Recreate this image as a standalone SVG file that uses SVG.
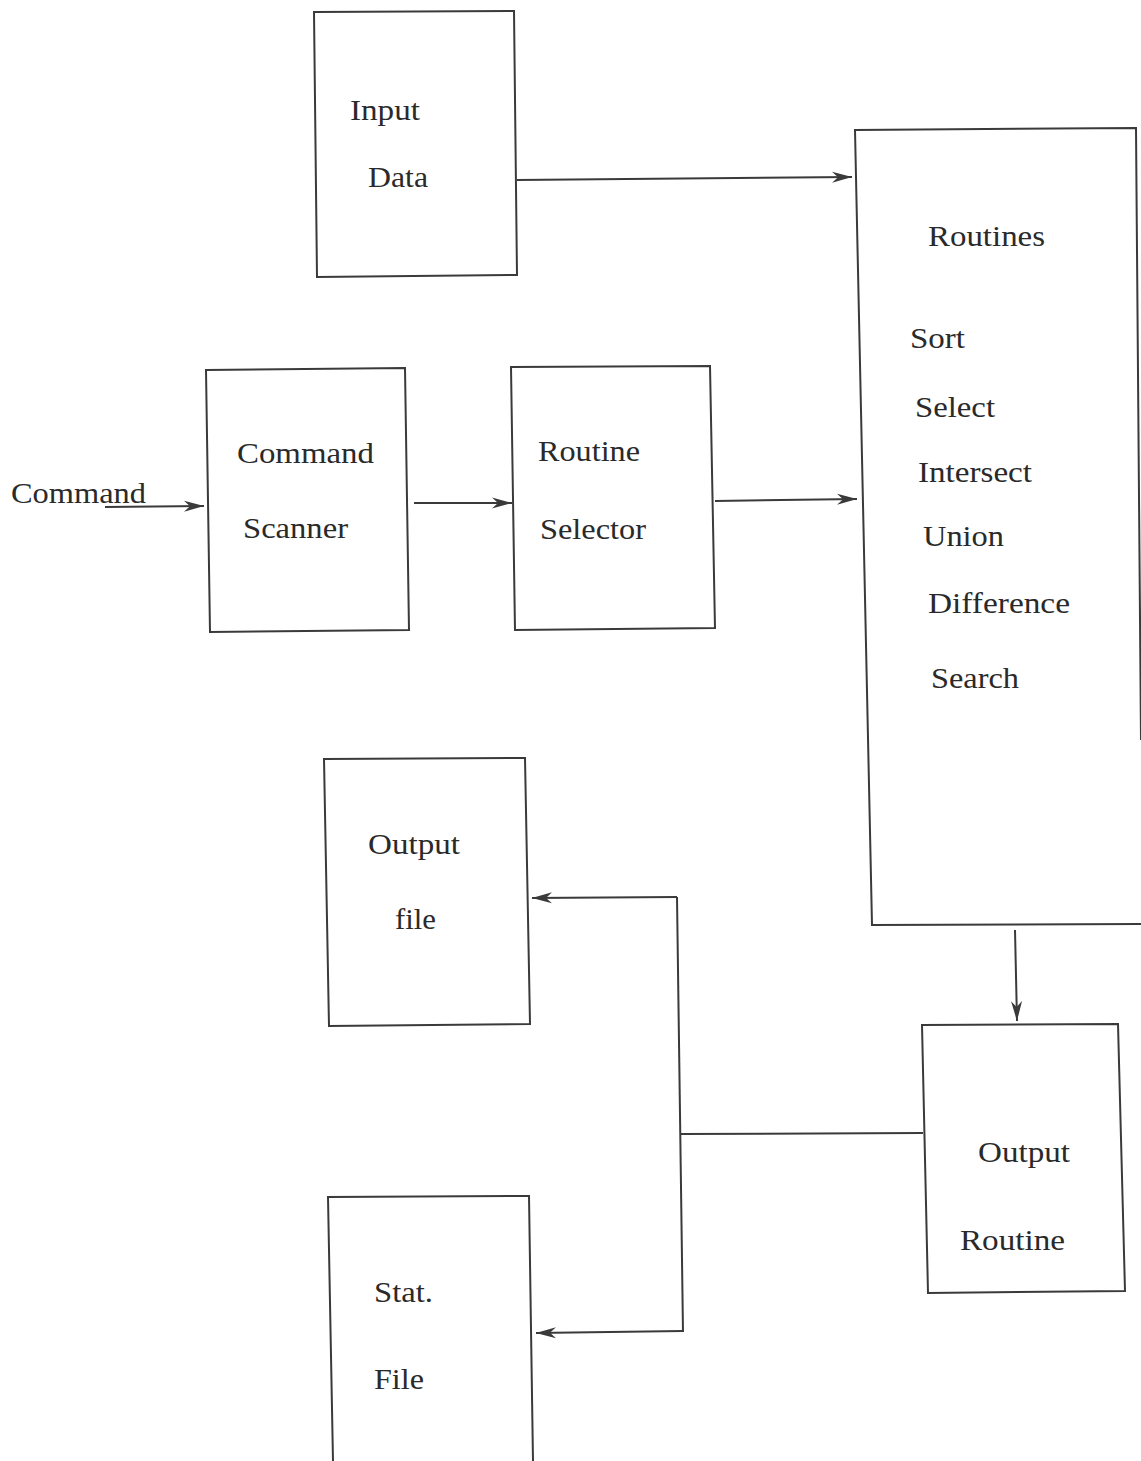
<svg xmlns="http://www.w3.org/2000/svg" width="1141" height="1461" viewBox="0 0 1141 1461">
  <style>
    .box { fill: none; stroke: #3a3a3a; stroke-width: 2; stroke-linejoin: miter; }
    .wire { fill: none; stroke: #3a3a3a; stroke-width: 2; }
    .lbl { font-family: "Liberation Serif", "Times New Roman", serif; font-size: 30px; fill: #2a2a2a; }
  </style>
  <defs>
    <!-- notched barb arrowhead shared by every connector -->
    <marker id="arr" markerUnits="userSpaceOnUse" markerWidth="22" markerHeight="12" refX="20" refY="6" orient="auto">
      <path d="M0,0.5 L20,6 L0,11.5 L6,6 z" fill="#3a3a3a"/>
    </marker>
  </defs>
  <rect width="1141" height="1461" fill="#ffffff"/>

  <g id="input-data">
    <polygon class="box" points="314,12 514,11 517,275 317,277"/>
    <text class="lbl" x="350" y="120" textLength="70" lengthAdjust="spacingAndGlyphs">Input</text>
    <text class="lbl" x="368" y="187" textLength="60" lengthAdjust="spacingAndGlyphs">Data</text>
  </g>

  <g id="routines">
    <polyline class="box" points="1141,924 872,925 855,130 1136,128 1141,740"/>
    <text class="lbl" x="928" y="246" textLength="117" lengthAdjust="spacingAndGlyphs">Routines</text>
    <text class="lbl" x="910" y="348" textLength="55" lengthAdjust="spacingAndGlyphs">Sort</text>
    <text class="lbl" x="915" y="417" textLength="80" lengthAdjust="spacingAndGlyphs">Select</text>
    <text class="lbl" x="918" y="482" textLength="114" lengthAdjust="spacingAndGlyphs">Intersect</text>
    <text class="lbl" x="923" y="546" textLength="81" lengthAdjust="spacingAndGlyphs">Union</text>
    <text class="lbl" x="928" y="613" textLength="142" lengthAdjust="spacingAndGlyphs">Difference</text>
    <text class="lbl" x="931" y="688" textLength="88" lengthAdjust="spacingAndGlyphs">Search</text>
  </g>

  <g id="command-scanner">
    <polygon class="box" points="206,370 405,368 409,630 210,632"/>
    <text class="lbl" x="237" y="463" textLength="137" lengthAdjust="spacingAndGlyphs">Command</text>
    <text class="lbl" x="243" y="538" textLength="105" lengthAdjust="spacingAndGlyphs">Scanner</text>
  </g>

  <g id="routine-selector">
    <polygon class="box" points="511,367 710,366 715,628 515,630"/>
    <text class="lbl" x="538" y="461" textLength="102" lengthAdjust="spacingAndGlyphs">Routine</text>
    <text class="lbl" x="540" y="539" textLength="106" lengthAdjust="spacingAndGlyphs">Selector</text>
  </g>

  <g id="output-file">
    <polygon class="box" points="324,759 525,758 530,1024 329,1026"/>
    <text class="lbl" x="368" y="854" textLength="92" lengthAdjust="spacingAndGlyphs">Output</text>
    <text class="lbl" x="395" y="929" textLength="41" lengthAdjust="spacingAndGlyphs">file</text>
  </g>

  <g id="output-routine">
    <polygon class="box" points="922,1025 1118,1024 1125,1291 928,1293"/>
    <text class="lbl" x="978" y="1162" textLength="92" lengthAdjust="spacingAndGlyphs">Output</text>
    <text class="lbl" x="960" y="1250" textLength="105" lengthAdjust="spacingAndGlyphs">Routine</text>
  </g>

  <g id="stat-file">
    <polyline class="box" points="333,1461 328,1197 529,1196 533,1461"/>
    <text class="lbl" x="374" y="1302" textLength="59" lengthAdjust="spacingAndGlyphs">Stat.</text>
    <text class="lbl" x="374" y="1389" textLength="50" lengthAdjust="spacingAndGlyphs">File</text>
  </g>

  <g id="command-input">
    <text class="lbl" x="11" y="503" textLength="135" lengthAdjust="spacingAndGlyphs">Command</text>
  </g>

  <g id="connectors">
    <line class="wire" x1="517" y1="180" x2="852" y2="177" marker-end="url(#arr)"/>
    <line class="wire" x1="105" y1="507" x2="204" y2="506" marker-end="url(#arr)"/>
    <line class="wire" x1="414" y1="503" x2="512" y2="503" marker-end="url(#arr)"/>
    <line class="wire" x1="715" y1="501" x2="857" y2="499" marker-end="url(#arr)"/>
    <line class="wire" x1="1015" y1="930" x2="1017" y2="1021" marker-end="url(#arr)"/>
    <line class="wire" x1="923" y1="1133" x2="680" y2="1134"/>
    <polyline class="wire" points="677,897 683,1332"/>
    <line class="wire" x1="677" y1="897" x2="532" y2="898" marker-end="url(#arr)"/>
    <line class="wire" x1="683" y1="1331" x2="536" y2="1333" marker-end="url(#arr)"/>
  </g>
</svg>
